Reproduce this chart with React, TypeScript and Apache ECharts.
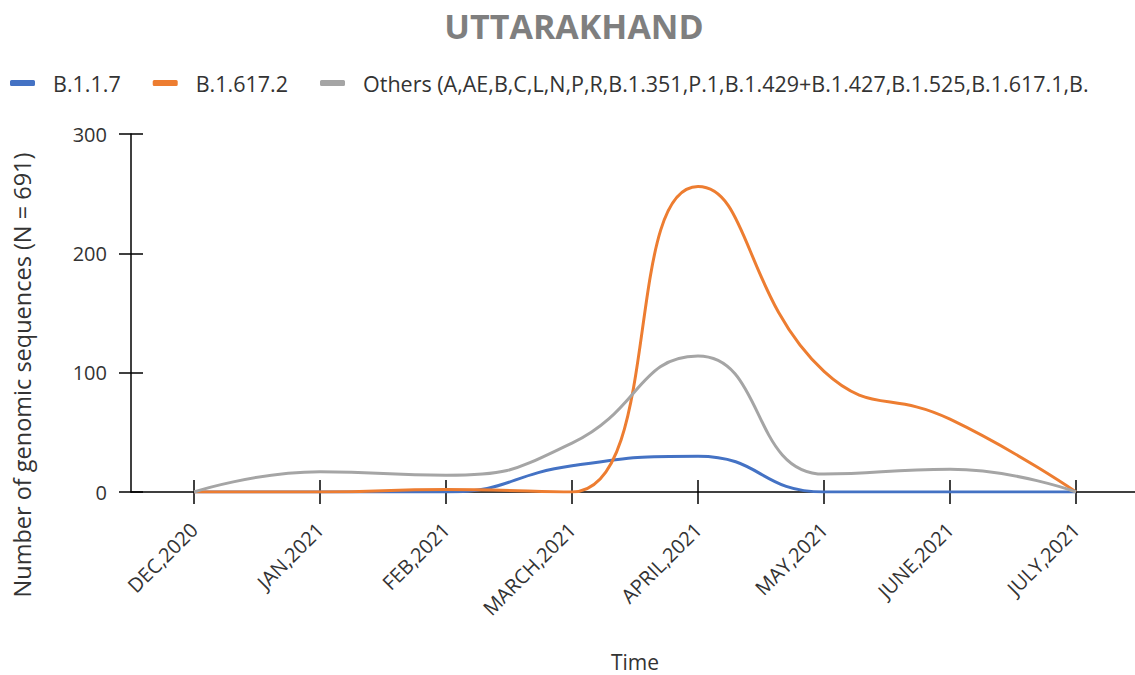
import React, { useEffect, useRef } from "react";
import * as echarts from "echarts";

const categories = ["DEC,2020", "JAN,2021", "FEB,2021", "MARCH,2021", "APRIL,2021", "MAY,2021", "JUNE,2021", "JULY,2021"];
const b117 = [0, 0, 0, 22, 30, 0, 0, 0];
const b16172 = [0, 0, 2, 0, 256, 101, 61, 0];
const others = [0, 17, 14, 41, 114, 15, 19, 0];
const seriesNames = [
  "B.1.1.7",
  "B.1.617.2",
  "Others (A,AE,B,C,L,N,P,R,B.1.351,P.1,B.1.429+B.1.427,B.1.525,B.1.617.1,B.",
];
const colors = ["#4472C4", "#ED7D31", "#A5A5A5"];
const yTicks = { min: 0, max: 300, interval: 100 };

const FONT = "Open Sans";
const TXT = "#333333";

export default function App() {
  const ref = useRef<HTMLDivElement>(null);
  useEffect(() => {
    const chart = echarts.init(ref.current!, null, { renderer: "svg" });
    const mkSeries = (name: string, data: number[], color: string) => ({
      name,
      type: "line",
      data,
      smooth: 0.5,
      symbol: "none",
      xAxisIndex: 0,
      yAxisIndex: 0,
      lineStyle: { color, width: 3 },
      itemStyle: { color },
    });
    chart.setOption({
      animation: false,
      backgroundColor: "#ffffff",
      title: {
        text: "UTTARAKHAND",
        left: 569,
        top: 4,
        textAlign: "center",
        textStyle: { fontFamily: FONT, fontWeight: "bold", fontSize: 34, color: "#7F7F7F" },
      },
      legend: {
        left: 5,
        top: 67,
        icon: "roundRect",
        itemWidth: 25,
        itemHeight: 6,
        itemGap: 32,
        textStyle: { fontFamily: FONT, fontSize: 21.5, color: TXT, padding: [0, 0, 0, 13] },
        data: seriesNames,
      },
      grid: { left: 131, top: 134, width: 1008, height: 358, containLabel: false, outerBoundsMode: "none" },
      xAxis: [
        {
          type: "category",
          data: categories,
          boundaryGap: true,
          position: "bottom",
          axisLine: { show: true, lineStyle: { color: "#000", width: 1.5 } },
          axisTick: { show: true, alignWithLabel: true, length: 12, lineStyle: { color: "#000", width: 1.5 } },
          axisLabel: {
            rotate: 45,
            margin: 34,
            padding: [26, 0, 0, 0],
            fontFamily: FONT,
            fontSize: 20,
            color: TXT,
            interval: 0,
          },
          splitLine: { show: false },
          name: "Time",
          nameLocation: "middle",
          nameGap: 159,
          nameTextStyle: { fontFamily: FONT, fontSize: 21, color: TXT },
        },
        {
          type: "category",
          data: categories,
          boundaryGap: true,
          position: "bottom",
          axisLine: { show: false },
          axisTick: { show: true, inside: true, alignWithLabel: true, length: 12, lineStyle: { color: "#000", width: 1.5 } },
          axisLabel: { show: false },
          splitLine: { show: false },
        },
      ],
      yAxis: [
        {
          type: "value",
          ...yTicks,
          position: "left",
          axisLine: { show: true, lineStyle: { color: "#000", width: 1.5 } },
          axisTick: { show: true, length: 12, lineStyle: { color: "#000", width: 1.5 } },
          axisLabel: { margin: 24, fontFamily: FONT, fontSize: 20, color: TXT },
          splitLine: { show: false },
        },
        {
          type: "value",
          ...yTicks,
          position: "left",
          axisLine: { show: false },
          axisTick: { show: true, inside: true, length: 12, lineStyle: { color: "#000", width: 1.5 } },
          axisLabel: { show: false },
          splitLine: { show: false },
        },
      ],
      graphic: [
        {
          type: "text",
          x: 22,
          y: 375,
          rotation: Math.PI / 2,
          style: {
            text: "Number of genomic sequences (N = 691)",
            fontFamily: FONT,
            fontSize: 23.5,
            fill: TXT,
            align: "center",
            verticalAlign: "middle",
          },
        },
      ],
      series: [
        mkSeries(seriesNames[0], b117, colors[0]),
        mkSeries(seriesNames[1], b16172, colors[1]),
        mkSeries(seriesNames[2], others, colors[2]),
      ],
    });
    return () => chart.dispose();
  }, []);
  return <div ref={ref} style={{ position: "fixed", left: 0, top: 0, width: 1135, height: 675 }} />;
}
